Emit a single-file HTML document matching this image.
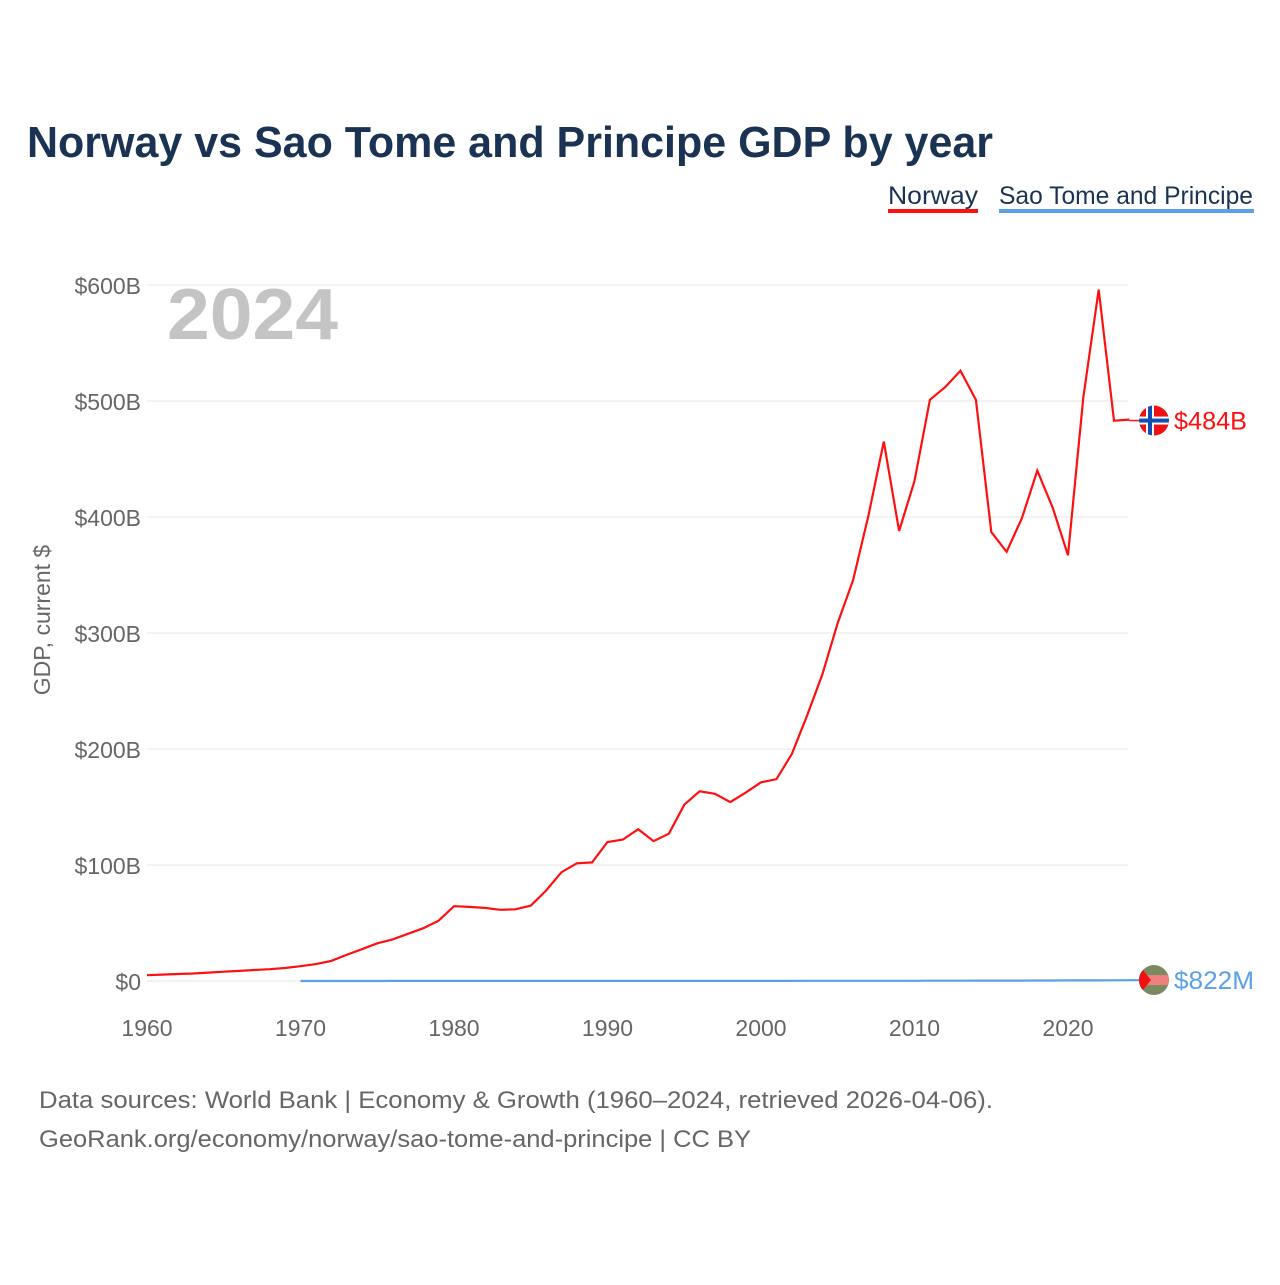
<!DOCTYPE html>
<html><head><meta charset="utf-8"><style>
body{margin:0;background:#fff;font-family:"Liberation Sans",sans-serif}
</style></head><body>
<svg width="1280" height="1280" xmlns="http://www.w3.org/2000/svg">
<rect width="1280" height="1280" fill="#fff"/>
<text x="27" y="157" font-size="44" font-weight="bold" fill="#1b3352" textLength="966" lengthAdjust="spacingAndGlyphs">Norway vs Sao Tome and Principe GDP by year</text>
<g><text x="888" y="204" font-size="25" fill="#1b3352" textLength="90" lengthAdjust="spacingAndGlyphs">Norway</text><rect x="888" y="209" width="90" height="4" fill="#ff1010"/></g>
<g><text x="999" y="204" font-size="25" fill="#1b3352" textLength="254" lengthAdjust="spacingAndGlyphs">Sao Tome and Principe</text><rect x="999" y="209" width="255" height="4" fill="#5aa0e6"/></g>
<text x="167" y="339" font-size="72" font-weight="bold" fill="#c4c4c4" textLength="171" lengthAdjust="spacingAndGlyphs">2024</text>
<text transform="translate(50,620) rotate(-90)" text-anchor="middle" font-size="23" fill="#666">GDP, current $</text>
<g id="grid"></g><g id="xt"></g><g id="lines"></g>
<text x="39" y="1108" font-size="24" fill="#666" textLength="954" lengthAdjust="spacingAndGlyphs">Data sources: World Bank | Economy &amp; Growth (1960–2024, retrieved 2026-04-06).</text>
<text x="39" y="1147" font-size="24" fill="#666" textLength="712" lengthAdjust="spacingAndGlyphs">GeoRank.org/economy/norway/sao-tome-and-principe | CC BY</text>
</svg>
<script>
const yTicks=[0,100,200,300,400,500,600];
const yTickLabels=["$0","$100B","$200B","$300B","$400B","$500B","$600B"];
const xTicks=[1960,1970,1980,1990,2000,2010,2020];
const norwayStart=1960;
const norway=[5,5.5,6,6.5,7.2,8,8.7,9.5,10.2,11.2,12.8,14.6,17.3,22.5,27.4,32.5,35.9,40.7,45.5,52,64.5,63.9,63,61.4,61.8,65,78,93.8,101.5,102.2,119.8,121.9,130.9,120.6,127,152,163.5,161.4,154.2,162.3,171.3,174,195.4,228.6,264.4,308.9,345.6,401,465,388,431,501,512,526,501,387,370,399,440,408,367,503,596,483,484];
const stpStart=1970;
const stp=[0.02,0.02,0.03,0.03,0.04,0.04,0.05,0.05,0.06,0.07,0.08,0.07,0.07,0.06,0.06,0.06,0.07,0.08,0.08,0.08,0.1,0.1,0.1,0.1,0.1,0.1,0.1,0.1,0.1,0.1,0.12,0.12,0.12,0.13,0.14,0.15,0.16,0.18,0.2,0.2,0.2,0.25,0.26,0.3,0.32,0.32,0.35,0.38,0.41,0.42,0.48,0.53,0.55,0.6,0.7,0.68,0.82];
const X=y=>147+(y-1960)*(921/60), Y=v=>981-v*(696/600);
const NS="http://www.w3.org/2000/svg";
function mk(t,a,p,txt){const e=document.createElementNS(NS,t);for(const k in a)e.setAttribute(k,a[k]);if(txt!=null)e.textContent=txt;document.getElementById(p)?document.getElementById(p).appendChild(e):p.appendChild(e);return e;}
yTicks.forEach((v,i)=>{
 const l=mk('line',{x1:147,x2:1128,y1:Y(v),y2:Y(v),stroke:'#e6e6e6','stroke-width':1},'grid');
 
 
 const t=mk('text',{x:141,y:Y(v)+9,'text-anchor':'end','font-size':23,fill:'#666'},'grid',yTickLabels[i]);
 
 
});
xTicks.forEach(v=>{
 const t=mk('text',{x:X(v),y:1036,'text-anchor':'middle','font-size':23,fill:'#666'},'xt',v);
 
 
});
function pts(arr,s){return arr.map((v,i)=>X(s+i).toFixed(1)+','+Y(v).toFixed(1)).join(' ');}
const n=mk('polyline',{points:pts(norway,norwayStart),fill:'none',stroke:'#ff1010','stroke-width':2.2},'lines');


const s=mk('polyline',{points:pts(stp,stpStart),fill:'none',stroke:'#5aa0e6','stroke-width':2.2},'lines');


const ln=norway[norway.length-1], ls=stp[stp.length-1];
const ny=Y(ln)+1;
const lf=mk('line',{x1:X(2024),x2:1140,y1:ny,y2:ny,stroke:'#ff1010','stroke-width':1.5},'lines');


const fg=mk('g',{},'lines');


mk('defs',{},fg).innerHTML='<clipPath id="c1"><circle cx="1154" cy="'+ny+'" r="15"/></clipPath><clipPath id="c2"><circle cx="1154" cy="'+Y(ls)+'" r="15"/></clipPath>';
const f1=mk('g',{'clip-path':'url(#c1)'},fg);
mk('rect',{x:1139,y:ny-15,width:30,height:30,fill:'#f01010'},f1);
mk('rect',{x:1139,y:ny-4,width:30,height:8,fill:'#fff'},f1);
mk('rect',{x:1146,y:ny-15,width:8,height:30,fill:'#fff'},f1);
mk('rect',{x:1139,y:ny-2,width:30,height:4,fill:'#1050b0'},f1);
mk('rect',{x:1148,y:ny-15,width:4,height:30,fill:'#1050b0'},f1);
const nl=mk('text',{x:1174,y:ny+9,'font-size':25,fill:'#ff1010',textLength:73,lengthAdjust:'spacingAndGlyphs'},'lines','$484B');


const sy=Y(ls);
const sg=mk('g',{'clip-path':'url(#c2)'},'lines');


mk('rect',{x:1139,y:sy-15,width:30,height:30,fill:'#7a8a60'},sg);
mk('rect',{x:1139,y:sy-5,width:30,height:10,fill:'#f08080'},sg);
mk('polygon',{points:`1139,${sy-15} 1151,${sy} 1139,${sy+15}`,fill:'#f01010'},sg);
const sl=mk('text',{x:1174,y:sy+9,'font-size':25,fill:'#5aa0e6',textLength:80,lengthAdjust:'spacingAndGlyphs'},'lines','$822M');


</script>
</body></html>
